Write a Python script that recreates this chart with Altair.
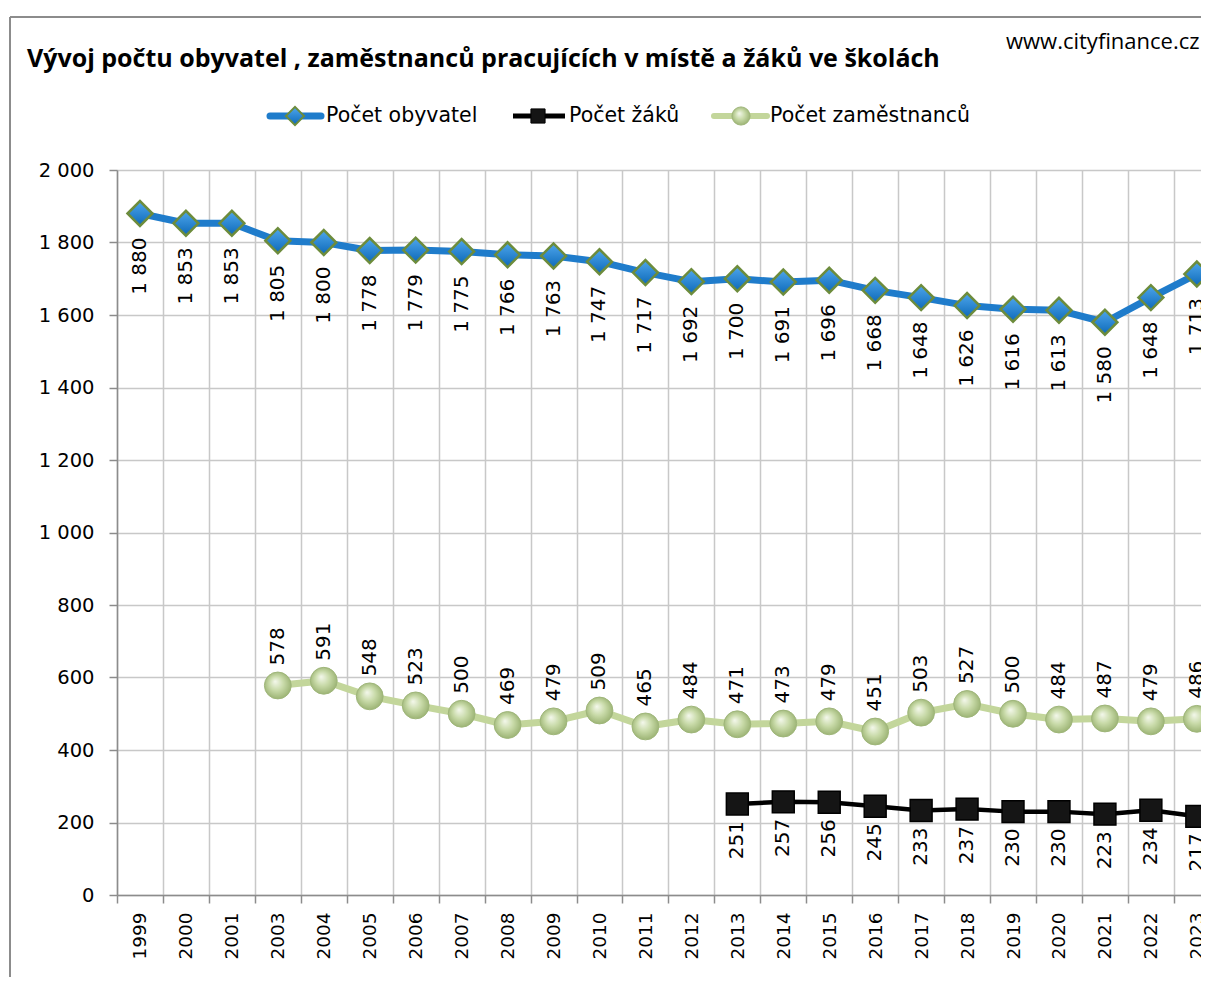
import altair as alt
import pandas as pd

# ---------------- data ----------------
years = ["1999", "2000", "2001", "2003", "2004", "2005", "2006", "2007", "2008",
         "2009", "2010", "2011", "2012", "2013", "2014", "2015", "2016", "2017",
         "2018", "2019", "2020", "2021", "2022", "2023"]
obyvatel = [1880, 1853, 1853, 1805, 1800, 1778, 1779, 1775, 1766, 1763, 1747, 1717,
            1692, 1700, 1691, 1696, 1668, 1648, 1626, 1616, 1613, 1580, 1648, 1713]
zam_years = years[3:]
zamestnanci = [578, 591, 548, 523, 500, 469, 479, 509, 465, 484, 471, 473, 479, 451,
               503, 527, 500, 484, 487, 479, 486]
zaci_years = years[13:]
zaci = [251, 257, 256, 245, 233, 237, 230, 230, 223, 234, 217]

title_text = "Vývoj počtu obyvatel , zaměstnanců pracujících v místě a žáků ve školách"
source_text = "www.cityfinance.cz"
legend_labels = ["Počet obyvatel", "Počet žáků", "Počet zaměstnanců"]
y_ticks = list(range(0, 2001, 200))


def fmt(v):
    return f"{v:,}".replace(",", " ")


def frame(yrs, vals):
    return pd.DataFrame({"year": yrs, "idx": [years.index(y) for y in yrs],
                         "value": vals, "label": [fmt(v) for v in vals]})


df_ob = frame(years, obyvatel)
df_zam = frame(zam_years, zamestnanci)
df_zaci = frame(zaci_years, zaci)

# ---------------- style ----------------
FONT = "DejaVu Sans"
BLUE = "#1f7ccb"
GREEN_LINE = "#c3d69b"
PLOT_W = 1084
PLOT_H = 725
PAD_B = 82
STEP = 45.95  # category width in px; the original chart is cut at the right edge

boundaries = [i - 0.5 for i in range(len(years))]
year_list_expr = "[" + ",".join(f"'{y}'" for y in years) + "]"

x_enc = alt.X(
    "idx:Q", title=None,
    scale=alt.Scale(domain=[-0.5, -0.5 + PLOT_W / STEP], nice=False, zero=False),
    axis=alt.Axis(values=boundaries, labelExpr=f"{year_list_expr}[round(datum.value + 0.5)]",
                  labelOffset=STEP / 2, labelFlush=False, labelBound=False,
                  labelAngle=270, labelFont=FONT, labelFontSize=18.5, labelColor="#000000",
                  labelPadding=9, tickSize=8, tickColor="#8c8c8c",
                  tickWidth=1.5, domainColor="#8c8c8c", domainWidth=1.5, grid=True,
                  gridColor="#c8c8c8", gridWidth=1.5, labelOverlap=False),
)
y_enc = alt.Y(
    "value:Q", title=None,
    scale=alt.Scale(domain=[0, 2000], nice=False, zero=True),
    axis=alt.Axis(values=y_ticks, labelExpr="replace(format(datum.value, ','), ',', ' ')",
                  labelFont=FONT, labelFontSize=19.5, labelColor="#000000", labelPadding=15,
                  tickSize=8, tickColor="#8c8c8c", tickWidth=1.5, domainColor="#8c8c8c",
                  domainWidth=1.5, grid=True, gridColor="#c8c8c8", gridWidth=1.5),
)

diamond_fill = alt.LinearGradient(
    gradient="linear", x1=0, y1=0, x2=0, y2=1,
    stops=[alt.GradientStop(color="#4ea6ec", offset=0), alt.GradientStop(color="#0d69b8", offset=1)],
)
circle_fill = alt.RadialGradient(
    gradient="radial", x1=0.4, y1=0.35, r1=0, x2=0.5, y2=0.5, r2=0.6,
    stops=[alt.GradientStop(color="#f4f8ec", offset=0),
           alt.GradientStop(color="#c8daa8", offset=0.45),
           alt.GradientStop(color="#8fa865", offset=1)],
)

# ---------------- series ----------------
ob_line = alt.Chart(df_ob).mark_line(color=BLUE, strokeWidth=7, strokeJoin="round", strokeCap="round").encode(x=x_enc, y=y_enc)
ob_pts = alt.Chart(df_ob).mark_point(shape="diamond", filled=True, fill=diamond_fill, stroke="#6d8c3c",
                                      strokeWidth=2.5, size=620, opacity=1).encode(x=x_enc, y=y_enc)
ob_txt = alt.Chart(df_ob).mark_text(angle=270, align="right", baseline="middle", dx=-24, font=FONT,
                                     fontSize=20, color="#000000").encode(x=x_enc, y=y_enc, text="label:N")

zam_line = alt.Chart(df_zam).mark_line(color=GREEN_LINE, strokeWidth=7, strokeJoin="round", strokeCap="round").encode(x=x_enc, y=y_enc)
zam_pts = alt.Chart(df_zam).mark_point(shape="circle", filled=True, fill=circle_fill, stroke="#9fb67a",
                                        strokeWidth=1, size=720, opacity=1).encode(x=x_enc, y=y_enc)
zam_txt = alt.Chart(df_zam).mark_text(angle=270, align="left", baseline="middle", dx=20, font=FONT,
                                       fontSize=20, color="#000000").encode(x=x_enc, y=y_enc, text="label:N")

zaci_line = alt.Chart(df_zaci).mark_line(color="#000000", strokeWidth=4.5, strokeJoin="round").encode(x=x_enc, y=y_enc)
zaci_pts = alt.Chart(df_zaci).mark_point(shape="square", filled=True, fill="#151515", stroke="#000000",
                                          strokeWidth=1.5, size=480, opacity=1).encode(x=x_enc, y=y_enc)
zaci_txt = alt.Chart(df_zaci).mark_text(angle=270, align="right", baseline="middle", dx=-17, font=FONT,
                                         fontSize=20, color="#000000").encode(x=x_enc, y=y_enc, text="label:N")

# ---------------- decorations (title, source, legend, frame) ----------------
one = pd.DataFrame({"a": [0]})

title = alt.Chart(one).mark_text(text=title_text, font="Open Sans", fontWeight="bold", fontSize=25,
                                  align="left", baseline="alphabetic", color="#000000").encode(
    x=alt.value(-90), y=alt.value(-103))
source = alt.Chart(one).mark_text(text=source_text, font="Open Sans", fontSize=22, align="left",
                                   baseline="alphabetic", color="#000000").encode(
    x=alt.value(889), y=alt.value(-121))

frame_top = alt.Chart(one).mark_rule(color="#8c8c8c", strokeWidth=2).encode(
    x=alt.value(-107), x2=alt.value(PLOT_W), y=alt.value(-153))
frame_left = alt.Chart(one).mark_rule(color="#8c8c8c", strokeWidth=2).encode(
    x=alt.value(-107), y=alt.value(-153), y2=alt.value(PLOT_H + PAD_B))

LY = -54
LFS = 20.5
leg = []
# Počet obyvatel
leg.append(alt.Chart(one).mark_rule(color=BLUE, strokeWidth=7, strokeCap="round").encode(
    x=alt.value(153), x2=alt.value(204), y=alt.value(LY)))
leg.append(alt.Chart(one).mark_point(shape="diamond", filled=True, fill=diamond_fill, stroke="#6d8c3c",
                                     strokeWidth=2, size=330, opacity=1).encode(x=alt.value(178), y=alt.value(LY)))
leg.append(alt.Chart(one).mark_text(text=legend_labels[0], font=FONT, fontSize=LFS, align="left",
                                    baseline="middle", color="#000000").encode(x=alt.value(209), y=alt.value(LY)))
# Počet žáků
leg.append(alt.Chart(one).mark_rule(color="#000000", strokeWidth=5).encode(
    x=alt.value(396), x2=alt.value(448), y=alt.value(LY)))
leg.append(alt.Chart(one).mark_point(shape="square", filled=True, fill="#151515", stroke="#000000",
                                     strokeWidth=1, size=200, opacity=1).encode(x=alt.value(421), y=alt.value(LY)))
leg.append(alt.Chart(one).mark_text(text=legend_labels[1], font=FONT, fontSize=LFS, align="left",
                                    baseline="middle", color="#000000").encode(x=alt.value(452), y=alt.value(LY)))
# Počet zaměstnanců
leg.append(alt.Chart(one).mark_rule(color=GREEN_LINE, strokeWidth=6, strokeCap="round").encode(
    x=alt.value(597), x2=alt.value(650), y=alt.value(LY)))
leg.append(alt.Chart(one).mark_point(shape="circle", filled=True, fill=circle_fill, stroke="#9fb67a",
                                     strokeWidth=1, size=330, opacity=1).encode(x=alt.value(624), y=alt.value(LY)))
leg.append(alt.Chart(one).mark_text(text=legend_labels[2], font=FONT, fontSize=LFS, align="left",
                                    baseline="middle", color="#000000").encode(x=alt.value(653), y=alt.value(LY)))

chart = alt.layer(
    ob_line, zam_line, zaci_line, ob_pts, zam_pts, zaci_pts, ob_txt, zam_txt, zaci_txt,
    title, source, frame_top, frame_left, *leg,
).properties(
    width=PLOT_W, height=PLOT_H,
    autosize=alt.AutoSizeParams(type="none"),
    padding={"left": 109, "top": 162, "right": 0, "bottom": PAD_B},
    background="#ffffff",
).configure_view(stroke=None)

chart.save("out.html", embed_options={"renderer": "svg", "actions": False})
